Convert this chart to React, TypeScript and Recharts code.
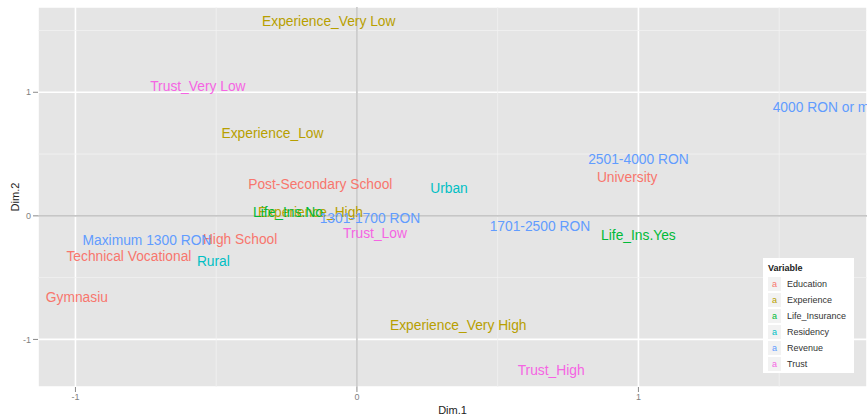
import React from 'react';
import { ScatterChart, Scatter, XAxis, YAxis, CartesianGrid, ReferenceLine } from 'recharts';

// MCA coordinates (Dim.1, Dim.2)
const educationLabels = ['Post-Secondary School', 'University', 'High School', 'Technical Vocational', 'Gymnasiu'];
const educationX = [-0.13, 0.96, -0.415, -0.81, -0.995];
const educationY = [0.25, 0.31, -0.19, -0.33, -0.66];

const experienceLabels = ['Experience_Very Low', 'Experience_Low', 'Experience_High', 'Experience_Very High'];
const experienceX = [-0.1, -0.3, -0.165, 0.36];
const experienceY = [1.57, 0.67, 0.03, -0.89];

const lifeLabels = ['Life_Ins.No', 'Life_Ins.Yes'];
const lifeX = [-0.245, 1.0];
const lifeY = [0.03, -0.155];

const residencyLabels = ['Urban', 'Rural'];
const residencyX = [0.327, -0.51];
const residencyY = [0.22, -0.37];

const revenueLabels = ['4000 RON or more', '2501-4000 RON', '1701-2500 RON', '1301-1700 RON', 'Maximum 1300 RON'];
const revenueX = [1.684, 1.0, 0.65, 0.046, -0.746];
const revenueY = [0.875, 0.455, -0.09, -0.02, -0.2];

const trustLabels = ['Trust_Very Low', 'Trust_Low', 'Trust_High'];
const trustX = [-0.565, 0.064, 0.69];
const trustY = [1.045, -0.145, -1.255];

const majorTicks = [-1, 0, 1];
const minorX = [-0.5, 0.5, 1.5];
const minorY = [-0.5, 0.5, 1.5];

const FONT = '"Liberation Sans", Arial, Helvetica, sans-serif';

const toPoints = (labels: string[], xs: number[], ys: number[]) =>
  labels.map((label, i) => ({ label, x: xs[i], y: ys[i] }));

const groups = [
  { name: 'Education', color: '#F8766D', data: toPoints(educationLabels, educationX, educationY) },
  { name: 'Experience', color: '#B79F00', data: toPoints(experienceLabels, experienceX, experienceY) },
  { name: 'Life_Insurance', color: '#00BA38', data: toPoints(lifeLabels, lifeX, lifeY) },
  { name: 'Residency', color: '#00BFC4', data: toPoints(residencyLabels, residencyX, residencyY) },
  { name: 'Revenue', color: '#619CFF', data: toPoints(revenueLabels, revenueX, revenueY) },
  { name: 'Trust', color: '#F564E3', data: toPoints(trustLabels, trustX, trustY) },
];

const textShape = (color: string) => (props: any) => {
  const { cx, cy, payload } = props;
  return (
    <text x={cx} y={cy} textAnchor="middle" dominantBaseline="central" fill={color} fontSize={13.8} fontFamily={FONT}>
      {payload.label}
    </text>
  );
};

const LegendBox = () => (
  <div
    style={{
      position: 'absolute',
      left: 763,
      top: 258,
      width: 91,
      height: 115,
      background: '#fff',
      fontFamily: FONT,
      boxSizing: 'border-box',
      padding: '3px 0 0 5px',
    }}
  >
    <div style={{ fontSize: 9, fontWeight: 'bold', color: '#222', height: 15, lineHeight: '15px' }}>Variable</div>
    {groups.map((g) => (
      <div key={g.name} style={{ display: 'flex', alignItems: 'center', height: 16 }}>
        <div
          style={{
            width: 13,
            height: 14,
            background: '#F2F2F2',
            color: g.color,
            fontSize: 9,
            lineHeight: '14px',
            textAlign: 'center',
            marginRight: 6,
          }}
        >
          a
        </div>
        <span style={{ fontSize: 9, color: '#333' }}>{g.name}</span>
      </div>
    ))}
  </div>
);

export default function App() {
  return (
    <div style={{ position: 'absolute', left: 0, top: 0, width: 867, height: 417, background: '#fff' }}>
      <ScatterChart width={867} height={417} margin={{ top: 7, right: 0, bottom: 0, left: 0 }}>
        <CartesianGrid fill="#E5E5E5" stroke="#FFFFFF" strokeWidth={1.6} />
        {minorX.map((v) => (
          <ReferenceLine key={'mx' + v} x={v} stroke="#F2F2F2" strokeWidth={0.8} />
        ))}
        {minorY.map((v) => (
          <ReferenceLine key={'my' + v} y={v} stroke="#F2F2F2" strokeWidth={0.8} />
        ))}
        <ReferenceLine x={0} stroke="#C6C6C6" strokeWidth={1.6} />
        <ReferenceLine y={0} stroke="#C6C6C6" strokeWidth={1.6} />
        <XAxis
          type="number"
          dataKey="x"
          domain={[-1.133, 1.812]}
          ticks={majorTicks}
          allowDataOverflow
          height={30}
          axisLine={false}
          tickLine={{ stroke: '#8A8A8A' }}
          tickSize={5}
          tickMargin={2}
          tick={{ fill: '#7F7F7F', fontSize: 9, fontFamily: FONT }}
          label={{ value: 'Dim.1', position: 'insideBottom', offset: 3, fill: '#222', fontSize: 11, fontFamily: FONT }}
        />
        <YAxis
          type="number"
          dataKey="y"
          domain={[-1.385, 1.69]}
          ticks={majorTicks}
          allowDataOverflow
          width={38}
          axisLine={false}
          tickLine={{ stroke: '#8A8A8A' }}
          tickSize={5}
          tickMargin={2}
          tick={{ fill: '#7F7F7F', fontSize: 9, fontFamily: FONT }}
          label={{
            value: 'Dim.2',
            angle: -90,
            position: 'insideLeft',
            offset: 15,
            fill: '#222',
            fontSize: 11,
            fontFamily: FONT,
            style: { textAnchor: 'middle' },
          }}
        />
        {groups.map((g) => (
          <Scatter key={g.name} name={g.name} data={g.data} shape={textShape(g.color)} isAnimationActive={false} />
        ))}
      </ScatterChart>
      <LegendBox />
    </div>
  );
}
